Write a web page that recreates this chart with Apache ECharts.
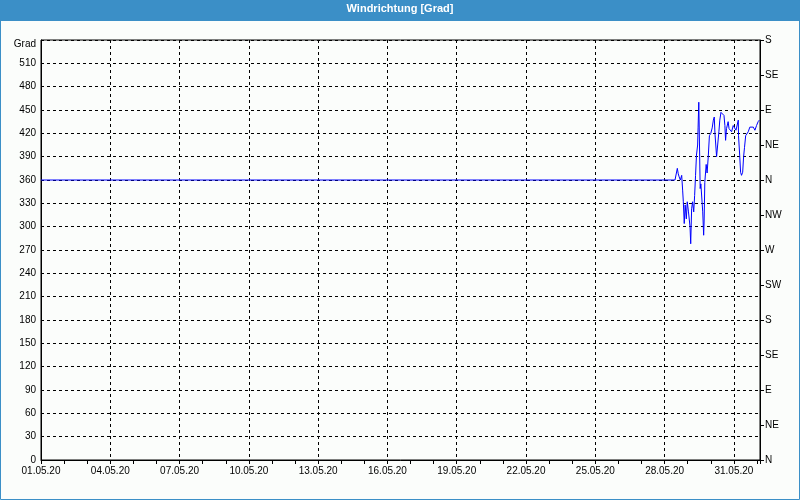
<!DOCTYPE html>
<html>
<head>
<meta charset="utf-8">
<script src="https://cdn.jsdelivr.net/npm/echarts@6/dist/echarts.min.js"></script>
<style>
html,body{margin:0;padding:0;background:#fbfdfb;}
#chart{width:800px;height:500px;}
</style>
</head>
<body>
<div id="chart"></div>
<script>
// Day offsets since 01.05.2020 00:00
var dayOffsets = [0, 27.45, 27.55, 27.59, 27.63, 27.68, 27.74, 27.78, 27.81, 27.85, 27.89, 27.94, 27.98, 28.03, 28.10, 28.13, 28.17, 28.21, 28.26, 28.30, 28.34, 28.38, 28.43, 28.45, 28.48, 28.51, 28.54, 28.57, 28.65, 28.69, 28.71, 28.74, 28.80, 28.84, 28.89, 28.94, 29.00, 29.06, 29.11, 29.15, 29.18, 29.25, 29.29, 29.35, 29.39, 29.44, 29.51, 29.57, 29.61, 29.64, 29.68, 29.75, 29.79, 29.86, 29.90, 29.97, 30.04, 30.09, 30.13, 30.19, 30.20, 30.25, 30.29, 30.33, 30.38, 30.42, 30.46, 30.51, 30.55, 30.62, 30.69, 30.77, 30.84, 30.91, 30.98, 31.05, 31.10];
var degrees = [360, 360, 375, 368, 364, 360, 366, 347, 332, 304, 328, 310, 332, 320, 300, 278, 323, 332, 319, 340, 366, 392, 405, 428, 460, 405, 349, 355, 319, 289, 306, 357, 380, 369, 390, 417, 420, 427, 437, 441, 420, 390, 390, 422, 437, 447, 447, 443, 430, 411, 426, 435, 426, 428, 422, 430, 428, 424, 422, 437, 417, 392, 370, 366, 370, 390, 402, 417, 415, 422, 428, 426, 428, 424, 430, 435, 437];
var leftTicks = {min: 0, max: 540, step: 30, topLabel: 'Grad'};
var compassLabels = ['N','NE','E','SE','S','SW','W','NW','N','NE','E','SE','S'];
var xEndDay = 31.13;
var titleText = 'Windrichtung [Grad]';

var seriesData = dayOffsets.map(function (d, i) { return [d, degrees[i]]; });

function fmtDate(v) {
  var d = new Date(Date.UTC(2020, 4, 1) + Math.round(v * 86400000));
  var dd = ('0' + d.getUTCDate()).slice(-2);
  var mm = ('0' + (d.getUTCMonth() + 1)).slice(-2);
  return dd + '.' + mm + '.' + String(d.getUTCFullYear()).slice(-2);
}

var font = 'Liberation Sans';
var chart = echarts.init(document.getElementById('chart'));
chart.setOption({
  backgroundColor: '#fbfdfb',
  animation: false,
  title: {
    text: titleText, left: 'center', top: 3, padding: 0,
    textStyle: {color: '#ffffff', fontSize: 11, fontWeight: 'bold', fontFamily: font}
  },
  graphic: [
    {type: 'rect', z: -1, shape: {x: 0, y: 0, width: 800, height: 21}, style: {fill: '#3b8fc7'}, silent: true},
    {type: 'rect', z: -1, shape: {x: 0.5, y: 0.5, width: 799, height: 499}, style: {fill: null, stroke: '#3b8fc7', lineWidth: 1}, silent: true}
  ],
  grid: {left: 41, right: 40, top: 40, bottom: 40, show: true, borderColor: '#000', borderWidth: 1, backgroundColor: 'transparent'},
  xAxis: {
    type: 'value', min: 0, max: xEndDay, interval: 3,
    axisLine: {show: true, lineStyle: {color: '#000', width: 1}},
    axisTick: {show: true, length: 4, lineStyle: {color: '#000'}},
    minorTick: {show: true, splitNumber: 3, length: 4, lineStyle: {color: '#000'}},
    splitLine: {show: true, lineStyle: {color: '#000', type: [3, 3], width: 1}},
    axisLabel: {color: '#000', fontSize: 10, fontFamily: font, margin: 6, formatter: fmtDate, showMaxLabel: false}
  },
  yAxis: [
    {
      type: 'value', min: leftTicks.min, max: leftTicks.max, interval: leftTicks.step, position: 'left',
      axisLine: {show: true, lineStyle: {color: '#000'}},
      axisTick: {show: false},
      splitLine: {show: true, lineStyle: {color: '#000', type: [3, 3], width: 1}},
      axisLabel: {
        color: '#000', fontSize: 10, fontFamily: font, margin: 5,
        formatter: function (v) { return v === leftTicks.max ? '{g|' + leftTicks.topLabel + '}' : String(v); },
        rich: {g: {fontSize: 10, fontFamily: font, color: '#000', padding: [8, 0, 0, 0]}}
      }
    },
    {
      type: 'value', min: 0, max: 540, interval: 45, position: 'right',
      axisLine: {show: true, lineStyle: {color: '#000'}},
      axisTick: {show: true, length: 4, lineStyle: {color: '#000'}},
      splitLine: {show: false},
      axisLabel: {
        color: '#000', fontSize: 10, fontFamily: font, margin: 5,
        formatter: function (v) { return compassLabels[Math.round(v / 45)]; }
      }
    }
  ],
  series: [{
    type: 'line', data: seriesData, showSymbol: false, symbol: 'none',
    lineStyle: {color: '#0000ff', width: 1}, yAxisIndex: 0
  }]
});
</script>
</body>
</html>
